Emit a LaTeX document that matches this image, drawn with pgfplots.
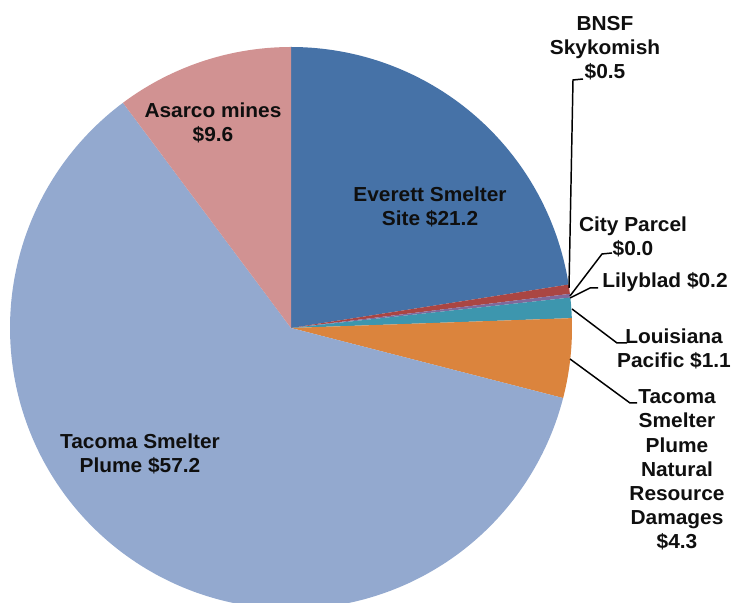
\documentclass[border=0pt]{standalone}
\usepackage{pgfplots}
\pgfplotsset{compat=1.18}
\usepackage{fontspec}
\setmainfont{Liberation Sans}[FakeStretch=1.03]
\definecolor{cEverett}{RGB}{70,114,167}
\definecolor{cBNSF}{RGB}{170,70,67}
\definecolor{cCity}{RGB}{137,165,78}
\definecolor{cLily}{RGB}{128,105,155}
\definecolor{cLP}{RGB}{61,150,174}
\definecolor{cNRD}{RGB}{219,132,61}
\definecolor{cPlume}{RGB}{147,169,207}
\definecolor{cAsarco}{RGB}{209,146,146}
\definecolor{txt}{RGB}{15,15,15}
% values ($ millions)
\def\vEverett{21.2}
\def\vBNSF{0.5}
\def\vCity{0.0}
\def\vLily{0.2}
\def\vLP{1.1}
\def\vNRD{4.3}
\def\vPlume{57.2}
\def\vAsarco{9.6}
\newcommand\lbl{\fontsize{11}{13.1}\selectfont\bfseries\color{txt}}
\begin{document}
\begin{tikzpicture}
\pgfmathsetmacro\T{\vEverett+\vBNSF+\vCity+\vLily+\vLP+\vNRD+\vPlume+\vAsarco}
\pgfmathsetmacro\aA{90}
\pgfmathsetmacro\aB{\aA-360*(\vEverett/\T)}
\pgfmathsetmacro\aC{\aB-360*(\vBNSF/\T)}
\pgfmathsetmacro\aD{\aC-360*(\vCity/\T)}
\pgfmathsetmacro\aE{\aD-360*(\vLily/\T)}
\pgfmathsetmacro\aF{\aE-360*(\vLP/\T)}
\pgfmathsetmacro\aG{\aF-360*(\vNRD/\T)}
\pgfmathsetmacro\aH{\aG-360*(\vPlume/\T)}
\pgfmathsetmacro\aI{\aH-360*(\vAsarco/\T)}
\begin{axis}[
  width=14cm, height=11.501cm, scale only axis,
  xmin=0, xmax=734, ymin=-603, ymax=0,
  hide axis, clip=true,
]
\def\cx{291}\def\cy{-328}\def\R{281}
\addplot[draw=none, fill=cEverett, domain=\aB:\aA, samples=80] ({\cx+\R*cos(x)},{\cy+\R*sin(x)}) -- (\cx,\cy) -- cycle;
\addplot[draw=none, fill=cBNSF, domain=\aC:\aB, samples=5] ({\cx+\R*cos(x)},{\cy+\R*sin(x)}) -- (\cx,\cy) -- cycle;
\addplot[draw=none, fill=cLily, domain=\aE:\aD, samples=5] ({\cx+\R*cos(x)},{\cy+\R*sin(x)}) -- (\cx,\cy) -- cycle;
\addplot[draw=none, fill=cLP, domain=\aF:\aE, samples=8] ({\cx+\R*cos(x)},{\cy+\R*sin(x)}) -- (\cx,\cy) -- cycle;
\addplot[draw=none, fill=cNRD, domain=\aG:\aF, samples=20] ({\cx+\R*cos(x)},{\cy+\R*sin(x)}) -- (\cx,\cy) -- cycle;
\addplot[draw=none, fill=cPlume, domain=\aH:\aG, samples=200] ({\cx+\R*cos(x)},{\cy+\R*sin(x)}) -- (\cx,\cy) -- cycle;
\addplot[draw=none, fill=cAsarco, domain=\aI:\aH, samples=40] ({\cx+\R*cos(x)},{\cy+\R*sin(x)}) -- (\cx,\cy) -- cycle;
% leader lines
\draw[black, line width=0.8pt] (axis cs:583,-79) -- (axis cs:573,-80) -- (axis cs:569,-288);
\draw[black, line width=0.8pt] (axis cs:612,-253) -- (axis cs:602,-254) -- (axis cs:570,-296);
\draw[black, line width=0.8pt] (axis cs:598,-288) -- (axis cs:590,-288) -- (axis cs:570,-298);
\draw[black, line width=0.8pt] (axis cs:572,-309) -- (axis cs:617,-343) -- (axis cs:627,-343);
\draw[black, line width=0.8pt] (axis cs:570,-359) -- (axis cs:630,-403) -- (axis cs:637,-403);
% labels
\node[align=center, font=\lbl] at (axis cs:213,-123) {Asarco mines\\\$9.6};
\node[align=center, font=\lbl] at (axis cs:430,-207) {Everett Smelter\\Site \$21.2};
\node[align=center, font=\lbl] at (axis cs:140,-454) {Tacoma Smelter\\Plume \$57.2};
\node[align=center, font=\lbl] at (axis cs:605,-48) {BNSF\\Skykomish\\\$0.5};
\node[align=center, font=\lbl] at (axis cs:633,-237) {City Parcel\\\$0.0};
\node[align=center, font=\lbl] at (axis cs:665,-282) {Lilyblad \$0.2};
\node[align=center, font=\lbl] at (axis cs:674,-349) {Louisiana\\Pacific \$1.1};
\node[align=center, font=\lbl] at (axis cs:677,-470) {Tacoma\\Smelter\\Plume\\Natural\\Resource\\Damages\\\$4.3};
\coordinate (bl) at (axis cs:0,-603);
\coordinate (tr) at (axis cs:734,0);
\end{axis}
\pgfresetboundingbox
\path[use as bounding box] (bl) rectangle (tr);
\end{tikzpicture}
\end{document}
